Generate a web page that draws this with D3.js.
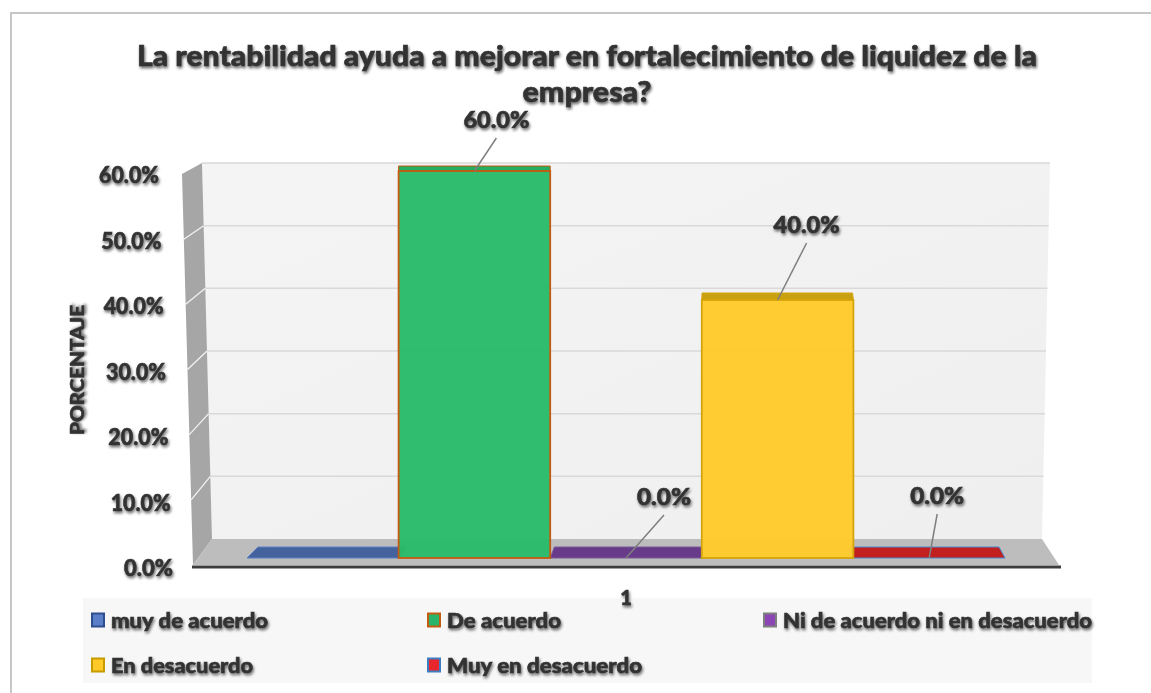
<!DOCTYPE html>
<html>
<head>
<meta charset="utf-8">
<script src="https://cdn.jsdelivr.net/npm/d3@7"></script>
<style>
  body { margin: 0; background: #fff; }
  svg { display: block; }
  text { font-family: Lato, "Open Sans", sans-serif; font-weight: 900; fill: #333; stroke: #333; stroke-width: 0.6; }
</style>
</head>
<body>
<svg id="canvas"></svg>
<script>
const width = 1151;
const height = 693;

// datos
const titleLines = ["La rentabilidad ayuda a mejorar en fortalecimiento de liquidez de la", "empresa?"];
const categories = ["1"];
const seriesNames = ["muy de acuerdo", "De acuerdo", "Ni de acuerdo ni en desacuerdo", "En desacuerdo", "Muy en desacuerdo"];
const seriesValues = [0, 0.6, 0, 0.4, 0];
const showLabel = [false, true, true, true, true];
const yTicks = [0, 0.1, 0.2, 0.3, 0.4, 0.5, 0.6];
const yTitle = "PORCENTAJE";

// estilos
const fills = ["#44639e", "#29ba69", "#673b8a", "#ffca2a", "#c21f1f"];
const strokes = ["#5b7fc4", "#c55a11", "#7a5a98", "#d4a50a", "#4a8ad0"];
const topFills = ["#3c5890", "#25ad60", "#5c3480", "#c9a010", "#a81b1b"];
const legendFills = ["#5a7ec7", "#2ab36a", "#8b45b5", "#ffc928", "#e8262b"];
const legendStrokes = ["#2e4f8f", "#c55a11", "#7f7f7f", "#c69c00", "#3c7dc4"];
const labelOffsets = [[0, 0], [22, -43], [38, -53], [29, -67], [8, -54]];

const svg = d3.select("#canvas")
  .attr("width", width)
  .attr("height", height);

const defs = svg.append("defs");
const f = defs.append("filter").attr("id", "shadow")
  .attr("x", "-10%").attr("y", "-30%").attr("width", "130%").attr("height", "170%");
f.append("feGaussianBlur").attr("in", "SourceAlpha").attr("stdDeviation", 1.4);
f.append("feOffset").attr("dx", 1).attr("dy", 1.5);
f.append("feComponentTransfer").append("feFuncA").attr("type", "linear").attr("slope", 0.6);
const fm = f.append("feMerge");
fm.append("feMergeNode");
fm.append("feMergeNode").attr("in", "SourceGraphic");

const wallGrad = defs.append("linearGradient").attr("id", "wall")
  .attr("x1", 0).attr("y1", 0).attr("x2", 1).attr("y2", 1);
wallGrad.append("stop").attr("offset", 0).attr("stop-color", "#f4f4f4");
wallGrad.append("stop").attr("offset", 1).attr("stop-color", "#efefef");

function fit(sel, w) {
  return sel.attr("textLength", w).attr("lengthAdjust", "spacingAndGlyphs");
}

// marco
svg.append("path")
  .attr("d", "M11,693 V13 H1151")
  .attr("fill", "none").attr("stroke", "#c6c6c6").attr("stroke-width", 2);

// titulo
fit(svg.append("text").attr("x", 587).attr("y", 66).attr("text-anchor", "middle")
  .attr("font-size", 28).attr("filter", "url(#shadow)").text(titleLines[0]), 900);
fit(svg.append("text").attr("x", 587).attr("y", 102).attr("text-anchor", "middle")
  .attr("font-size", 28).attr("filter", "url(#shadow)").text(titleLines[1]), 129);

// escalas
const x = d3.scaleBand().domain(seriesNames).range([247, 1005]).paddingInner(0);
const y = d3.scaleLinear().domain([0, 0.6]).range([558, 171]);      // plano frontal de barras
const yWall = d3.scaleLinear().domain([0, 0.6]).range([539, 163]);  // pared del fondo
const ySide = d3.scaleLinear().domain([0, 0.6]).range([565, 174]);  // borde frontal pared lateral
const yLab = d3.scaleLinear().domain([0, 0.6]).range([576, 183]);
const xLab = d3.scaleLinear().domain([0, 0.6]).range([173, 159]);
const wallLeft = d3.scaleLinear().domain([163, 539]).range([202, 212]);
const wallRight = d3.scaleLinear().domain([163, 539]).range([1050, 1042]);
const sideFront = d3.scaleLinear().domain([174, 565]).range([182, 193]);

const line = d3.line();

// pared del fondo
const wTop = yWall(0.6), wBot = yWall(0);
svg.append("path")
  .attr("d", line([[wallLeft(wTop), wTop], [wallRight(wTop), wTop], [wallRight(wBot), wBot], [wallLeft(wBot), wBot]]) + "Z")
  .attr("fill", "url(#wall)");

svg.selectAll(".grid").data(yTicks.filter(t => t > 0)).enter().append("line")
  .attr("class", "grid")
  .attr("x1", t => wallLeft(yWall(t))).attr("x2", t => wallRight(yWall(t)))
  .attr("y1", t => yWall(t)).attr("y2", t => yWall(t))
  .attr("stroke", "#d9d9d9").attr("stroke-width", 1.5);

// pared lateral
svg.append("path")
  .attr("d", line([[sideFront(ySide(0.6)), ySide(0.6)], [wallLeft(wTop), wTop], [wallLeft(wBot), wBot], [sideFront(ySide(0)), ySide(0)]]) + "Z")
  .attr("fill", "#a6a6a6");

svg.selectAll(".sgrid").data(yTicks.filter(t => t > 0 && t < 0.6)).enter().append("line")
  .attr("class", "sgrid")
  .attr("x1", t => wallLeft(yWall(t))).attr("y1", t => yWall(t))
  .attr("x2", t => sideFront(ySide(t))).attr("y2", t => ySide(t))
  .attr("stroke", "#f2f2f2").attr("stroke-width", 1.3);

// piso
svg.append("path")
  .attr("d", line([[wallLeft(wBot), wBot], [wallRight(wBot), wBot], [1059, ySide(0)], [sideFront(ySide(0)), ySide(0)]]) + "Z")
  .attr("fill", "#bdbdbd");
svg.append("line")
  .attr("x1", 192).attr("x2", 1061).attr("y1", 567).attr("y2", 567)
  .attr("stroke", "#3d3d3d").attr("stroke-width", 3);

// barras
function depth(px, py) {
  const dy = (-151 - py) * 0.0155;
  const t = Math.max(0, (py - 171) / (558 - 171));
  const dx = (738 - px) * 0.0224 * t;
  return [px + dx, py + dy];
}

const bars = seriesNames.map((s, i) => ({ name: s, value: seriesValues[i], i: i }));

// huellas / caras superiores
svg.selectAll(".top").data(bars).enter().append("path")
  .attr("class", "top")
  .attr("d", d => {
    const x0 = x(d.name), x1 = x(d.name) + x.bandwidth(), yt = y(d.value);
    return line([[x0, yt], [x1, yt], depth(x1, yt), depth(x0, yt)]) + "Z";
  })
  .attr("fill", d => d.value > 0 ? topFills[d.i] : fills[d.i])
  .attr("stroke", d => strokes[d.i]).attr("stroke-width", 1)
  .attr("stroke-linejoin", "round");

svg.selectAll(".front").data(bars.filter(d => d.value > 0)).enter().append("rect")
  .attr("class", "front")
  .attr("x", d => x(d.name)).attr("width", x.bandwidth())
  .attr("y", d => y(d.value)).attr("height", d => y(0) - y(d.value))
  .attr("fill", d => fills[d.i]).attr("fill-opacity", 0.96)
  .attr("stroke", d => strokes[d.i]).attr("stroke-width", 1.8);

// etiquetas de datos
const lab = bars.filter(d => showLabel[d.i]);
svg.selectAll(".leader").data(lab).enter().append("line")
  .attr("class", "leader")
  .attr("x1", d => x(d.name) + x.bandwidth() / 2 + labelOffsets[d.i][0])
  .attr("y1", d => y(d.value) + labelOffsets[d.i][1] + 10)
  .attr("x2", d => x(d.name) + x.bandwidth() / 2)
  .attr("y2", d => y(d.value))
  .attr("stroke", "#7f7f7f").attr("stroke-width", 1.5);

svg.selectAll(".dlabel").data(lab).enter().append("text")
  .attr("class", "dlabel")
  .attr("x", d => x(d.name) + x.bandwidth() / 2 + labelOffsets[d.i][0])
  .attr("y", d => y(d.value) + labelOffsets[d.i][1])
  .attr("text-anchor", "middle").attr("font-size", 22)
  .attr("filter", "url(#shadow)")
  .text(d => d3.format(".1%")(d.value))
  .each(function(d) { fit(d3.select(this), d.value > 0 ? 66 : 54); });

// eje y
svg.selectAll(".ytick").data(yTicks).enter().append("text")
  .attr("class", "ytick")
  .attr("x", t => xLab(t)).attr("y", t => yLab(t))
  .attr("text-anchor", "end").attr("font-size", 22)
  .attr("filter", "url(#shadow)")
  .text(t => d3.format(".1%")(t))
  .each(function(t) { fit(d3.select(this), t > 0 ? 60 : 49); });

fit(svg.append("text")
  .attr("transform", "translate(84,370) rotate(-90)")
  .attr("text-anchor", "middle").attr("font-size", 19)
  .attr("filter", "url(#shadow)")
  .text(yTitle), 130);

// leyenda (fondo)
svg.append("rect").attr("x", 83).attr("y", 598).attr("width", 1009).attr("height", 85)
  .attr("fill", "#f7f7f7");

// eje x
svg.selectAll(".xcat").data(categories).enter().append("text")
  .attr("class", "xcat")
  .attr("x", (x(seriesNames[0]) + x(seriesNames[4]) + x.bandwidth()) / 2)
  .attr("y", 605).attr("text-anchor", "middle").attr("font-size", 20)
  .attr("filter", "url(#shadow)")
  .text(d => d);

const colX = [91, 427, 763];
const rowY = [620, 665];
const legendWidths = [157, 114, 309, 142, 195];

const items = svg.selectAll(".leg").data(bars).enter().append("g")
  .attr("class", "leg")
  .attr("transform", d => `translate(${colX[d.i % 3]},${rowY[Math.floor(d.i / 3)]})`);

items.append("rect")
  .attr("x", 1).attr("y", -6.5).attr("width", 12).attr("height", 13)
  .attr("fill", d => legendFills[d.i])
  .attr("stroke", d => legendStrokes[d.i]).attr("stroke-width", 2);

items.append("text")
  .attr("x", 20).attr("y", 7.5).attr("font-size", 21)
  .attr("filter", "url(#shadow)")
  .text(d => d.name)
  .each(function(d) { fit(d3.select(this), legendWidths[d.i]); });
</script>
</body>
</html>
